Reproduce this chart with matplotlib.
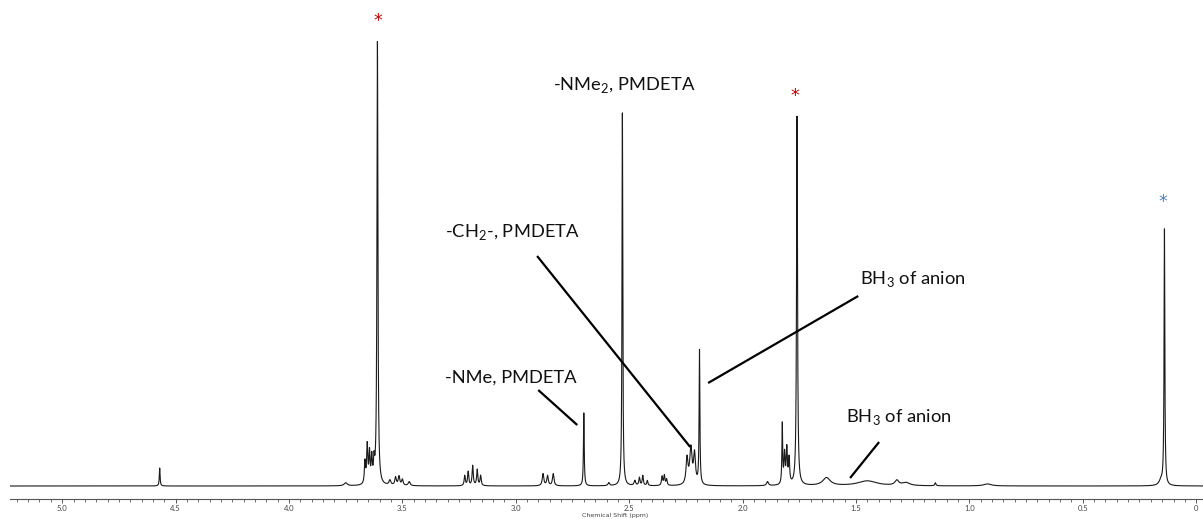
import numpy as np
import matplotlib
matplotlib.use('Agg')
import matplotlib.pyplot as plt
from matplotlib.ticker import MultipleLocator

plt.rcParams['font.family'] = ['Lato', 'DejaVu Sans']
plt.rcParams['mathtext.fontset'] = 'custom'
plt.rcParams['mathtext.rm'] = 'Lato'

# Peak list: shift (ppm), height (a.u.), half width (ppm)
peak_ppm = [4.57, 3.75, 3.665, 3.655, 3.645, 3.635, 3.625, 3.61,
            3.555, 3.53, 3.515, 3.50, 3.47,
            3.225, 3.21, 3.19, 3.17, 3.155,
            2.88, 2.86, 2.835, 2.70, 2.59, 2.53,
            2.475, 2.455, 2.44, 2.42, 2.355, 2.345, 2.335,
            2.245, 2.228, 2.212, 2.19,
            1.89, 1.825, 1.815, 1.805, 1.795, 1.76,
            1.63, 1.45, 1.32, 1.28, 1.15, 0.92, 0.155, 0.14]
peak_height = [18, 3, 22, 38, 30, 25, 20, 443,
               5, 8, 9, 6, 4,
               10, 14, 20, 16, 10,
               12, 10, 12, 73, 3, 373,
               5, 8, 10, 5, 9, 10, 6,
               26, 36, 30, 134,
               4, 60, 30, 35, 25, 369,
               8, 5, 5, 3, 3, 2, 5, 256]
peak_width = [0.002, 0.008, 0.003, 0.003, 0.003, 0.003, 0.003, 0.0025,
              0.005, 0.004, 0.004, 0.004, 0.005,
              0.003, 0.003, 0.003, 0.003, 0.003,
              0.004, 0.004, 0.004, 0.002, 0.004, 0.002,
              0.004, 0.003, 0.003, 0.003, 0.003, 0.003, 0.003,
              0.005, 0.006, 0.005, 0.002,
              0.005, 0.002, 0.003, 0.003, 0.003, 0.0025,
              0.02, 0.05, 0.01, 0.02, 0.003, 0.02, 0.01, 0.002]

# Build the trace as a sum of Lorentzian lines
shift = np.linspace(5.23, -0.03, 24000)
intensity = np.zeros_like(shift)
for p, h, w in zip(peak_ppm, peak_height, peak_width):
    intensity += h * w**2 / ((shift - p)**2 + w**2)

fig = plt.figure(figsize=(12.03, 5.19), dpi=100)
ax = fig.add_axes([10 / 1203, 20 / 519, 1193 / 1203, 499 / 519])
ax.plot(shift, intensity, color='#1a1a1a', linewidth=0.8)

ax.set_xlim(5.23, -0.03)
ax.set_ylim(-13, 486)
for side in ['left', 'top', 'right']:
    ax.spines[side].set_visible(False)
ax.spines['bottom'].set_color('#555555')
ax.spines['bottom'].set_linewidth(0.8)
ax.set_yticks([])
ax.xaxis.set_major_locator(MultipleLocator(0.5))
ax.xaxis.set_minor_locator(MultipleLocator(0.05))
ax.tick_params(axis='x', which='major', length=3, width=0.7, colors='#555555',
               labelsize=5.5, labelcolor='#444444', pad=1)
ax.tick_params(axis='x', which='minor', length=2, width=0.6, colors='#555555')
ax.xaxis.set_major_formatter(plt.FuncFormatter(lambda v, _: '0' if abs(v) < 1e-9 else f'{v:.1f}'))
fig.text(615 / 1203, 1 - 516 / 519, 'Chemical Shift (ppm)', fontsize=4.5,
         color='#444444', ha='center', va='center', family=['DejaVu Sans'])

# Peak assignments
lab = dict(fontsize=13.2, color='#111111', va='center')
ax.text(2.522, 401, r'-NMe$_\mathrm{2}$, PMDETA', ha='center', **lab)
ax.text(3.311, 254, r'-CH$_\mathrm{2}$-, PMDETA', ha='left', **lab)
ax.text(1.481, 207, r'BH$_\mathrm{3}$ of anion', ha='left', **lab)
ax.text(3.311, 108, '-NMe, PMDETA', ha='left', **lab)
ax.text(1.543, 69, r'BH$_\mathrm{3}$ of anion', ha='left', **lab)

line = dict(color='black', linewidth=1.6, solid_capstyle='butt')
ax.plot([2.906, 2.231], [230, 39], **line)
ax.plot([2.152, 1.490], [103, 190], **line)
ax.plot([2.901, 2.729], [96, 61], **line)
ax.plot([1.398, 1.526], [44, 8], **line)

# Solvent and reference markers
star = dict(fontsize=12.5, ha='center', va='center', family=['DejaVu Sans'])
ax.text(3.61, 465, '*', color='#c00000', **star)
ax.text(1.768, 390, '*', color='#c00000', **star)
ax.text(0.146, 284, '*', color='#4f81bd', **star)

fig.savefig('out.png', dpi=100)
